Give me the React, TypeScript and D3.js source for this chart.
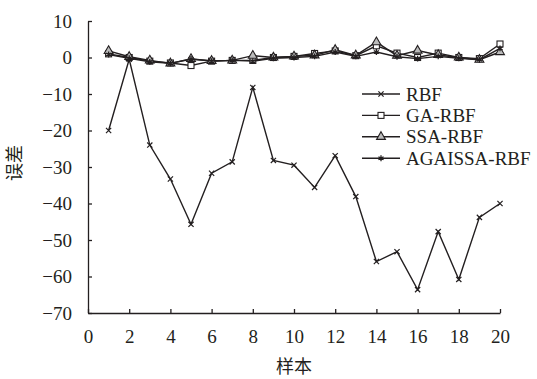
import React, { useRef, useEffect } from 'react'
import * as d3 from 'd3'

const samples = d3.range(1, 21)
const rbf = [-20, -0.5, -24, -33.3, -45.7, -31.7, -28.6, -8.2, -28.2, -29.5, -35.6, -26.9, -38.1, -55.9, -53.2, -63.6, -47.7, -60.8, -43.8, -40]
const gaRbf = [1.0, 0.0, -1.0, -1.5, -2.2, -1.0, -0.8, -0.8, 0.0, 0.3, 1.1, 1.8, 0.5, 3.2, 1.2, 0.0, 1.2, 0.0, -0.3, 3.7]
const ssaRbf = [1.8, 0.2, -0.8, -1.6, -0.4, -0.9, -0.8, 0.5, 0.0, 0.3, 0.6, 2.1, 0.6, 4.2, 0.5, 1.9, 0.7, 0.0, -0.6, 1.5]
const agaissaRbf = [0.8, -0.2, -1.2, -1.6, -0.4, -1.0, -0.8, -1.0, -0.2, 0.0, 0.3, 1.5, 0.3, 1.5, 0.2, -0.3, 0.3, -0.2, -0.6, 2.5]
const seriesNames = ['RBF', 'GA-RBF', 'SSA-RBF', 'AGAISSA-RBF']
const xTicks = [0, 2, 4, 6, 8, 10, 12, 14, 16, 18, 20]
const yTicks = [10, 0, -10, -20, -30, -40, -50, -60, -70]

const INK = '#231f20'
const FONT = '"Liberation Serif", "Times New Roman", serif'

export default function App() {
  const ref = useRef<SVGSVGElement>(null)

  useEffect(() => {
    const svg = d3.select(ref.current)
    svg.selectAll('*').remove()

    const x = d3.scaleLinear().domain([0, 20]).range([88, 500])
    const y = d3.scaleLinear().domain([-70, 10]).range([313, 21])

    // axes, ticks pointing inward
    const yAxis = svg
      .append('g')
      .attr('transform', `translate(${x(0)},0)`)
      .call(d3.axisLeft(y).tickValues(yTicks).tickSizeInner(-4).tickSizeOuter(0).tickPadding(16).tickFormat(d => d3.format('')(d as number).replace('-', '\u2212')))
    const xAxis = svg
      .append('g')
      .attr('transform', `translate(0,${y(-70)})`)
      .call(d3.axisBottom(x).tickValues(xTicks).tickSizeInner(-4).tickSizeOuter(0).tickPadding(17))
    for (const g of [yAxis, xAxis]) {
      g.selectAll('path, line').attr('stroke', INK).attr('stroke-width', 1.3)
      g.selectAll('text').attr('fill', INK).style('font-family', FONT).style('font-size', '19px')
    }

    const data = [rbf, gaRbf, ssaRbf, agaissaRbf]
    const line = d3
      .line<number>()
      .x((_, i) => x(samples[i]))
      .y(d => y(d))

    const drawMarker = (g: any, k: number, cx: number, cy: number) => {
      if (k === 0) {
        const s = 2.6
        g.append('path').attr('d', `M${cx - s},${cy - s}L${cx + s},${cy + s}M${cx - s},${cy + s}L${cx + s},${cy - s}`).attr('stroke', INK).attr('stroke-width', 1.2)
      } else if (k === 1) {
        g.append('rect').attr('x', cx - 3).attr('y', cy - 3).attr('width', 6).attr('height', 6).attr('fill', 'white').attr('stroke', INK).attr('stroke-width', 1.1)
      } else if (k === 2) {
        g.append('path').attr('d', d3.symbol(d3.symbolTriangle, 34)()).attr('transform', `translate(${cx},${cy})`).attr('fill', '#bbb').attr('stroke', INK).attr('stroke-width', 1.1)
      } else {
        g.append('path').attr('d', d3.symbol(d3.symbolAsterisk, 24)()).attr('transform', `translate(${cx},${cy})`).attr('fill', 'none').attr('stroke', INK).attr('stroke-width', 1.3)
      }
    }

    data.forEach((vals, k) => {
      const g = svg.append('g')
      g.append('path').datum(vals).attr('d', line).attr('fill', 'none').attr('stroke', INK).attr('stroke-width', 1.4)
      vals.forEach((v, i) => drawMarker(g, k, x(samples[i]), y(v)))
    })

    // legend
    const lg = svg.append('g')
    seriesNames.forEach((name, k) => {
      const ly = 94 + k * 21.4
      lg.append('line').attr('x1', 362).attr('x2', 400).attr('y1', ly).attr('y2', ly).attr('stroke', INK).attr('stroke-width', 1.4)
      drawMarker(lg, k, 381, ly)
      lg.append('text')
        .attr('x', 406)
        .attr('y', ly)
        .attr('dy', '0.35em')
        .attr('fill', INK)
        .style('font-family', FONT)
        .style('font-size', '19px')
        .text(name)
    })

    svg
      .append('text')
      .attr('x', 294)
      .attr('y', 373)
      .attr('text-anchor', 'middle')
      .attr('fill', INK)
      .style('font-family', '"Noto Sans CJK SC", sans-serif')
      .style('font-size', '18px')
      .text('样本')
    svg
      .append('text')
      .attr('transform', 'translate(15,163) rotate(-90)')
      .attr('text-anchor', 'middle')
      .attr('dy', '0.35em')
      .attr('fill', INK)
      .style('font-family', '"Noto Sans CJK SC", sans-serif')
      .style('font-size', '18px')
      .text('误差')
  }, [])

  return (
    <svg
      ref={ref}
      width={537}
      height={379}
      style={{ position: 'absolute', left: 0, top: 0, background: 'white' }}
    ></svg>
  )
}
